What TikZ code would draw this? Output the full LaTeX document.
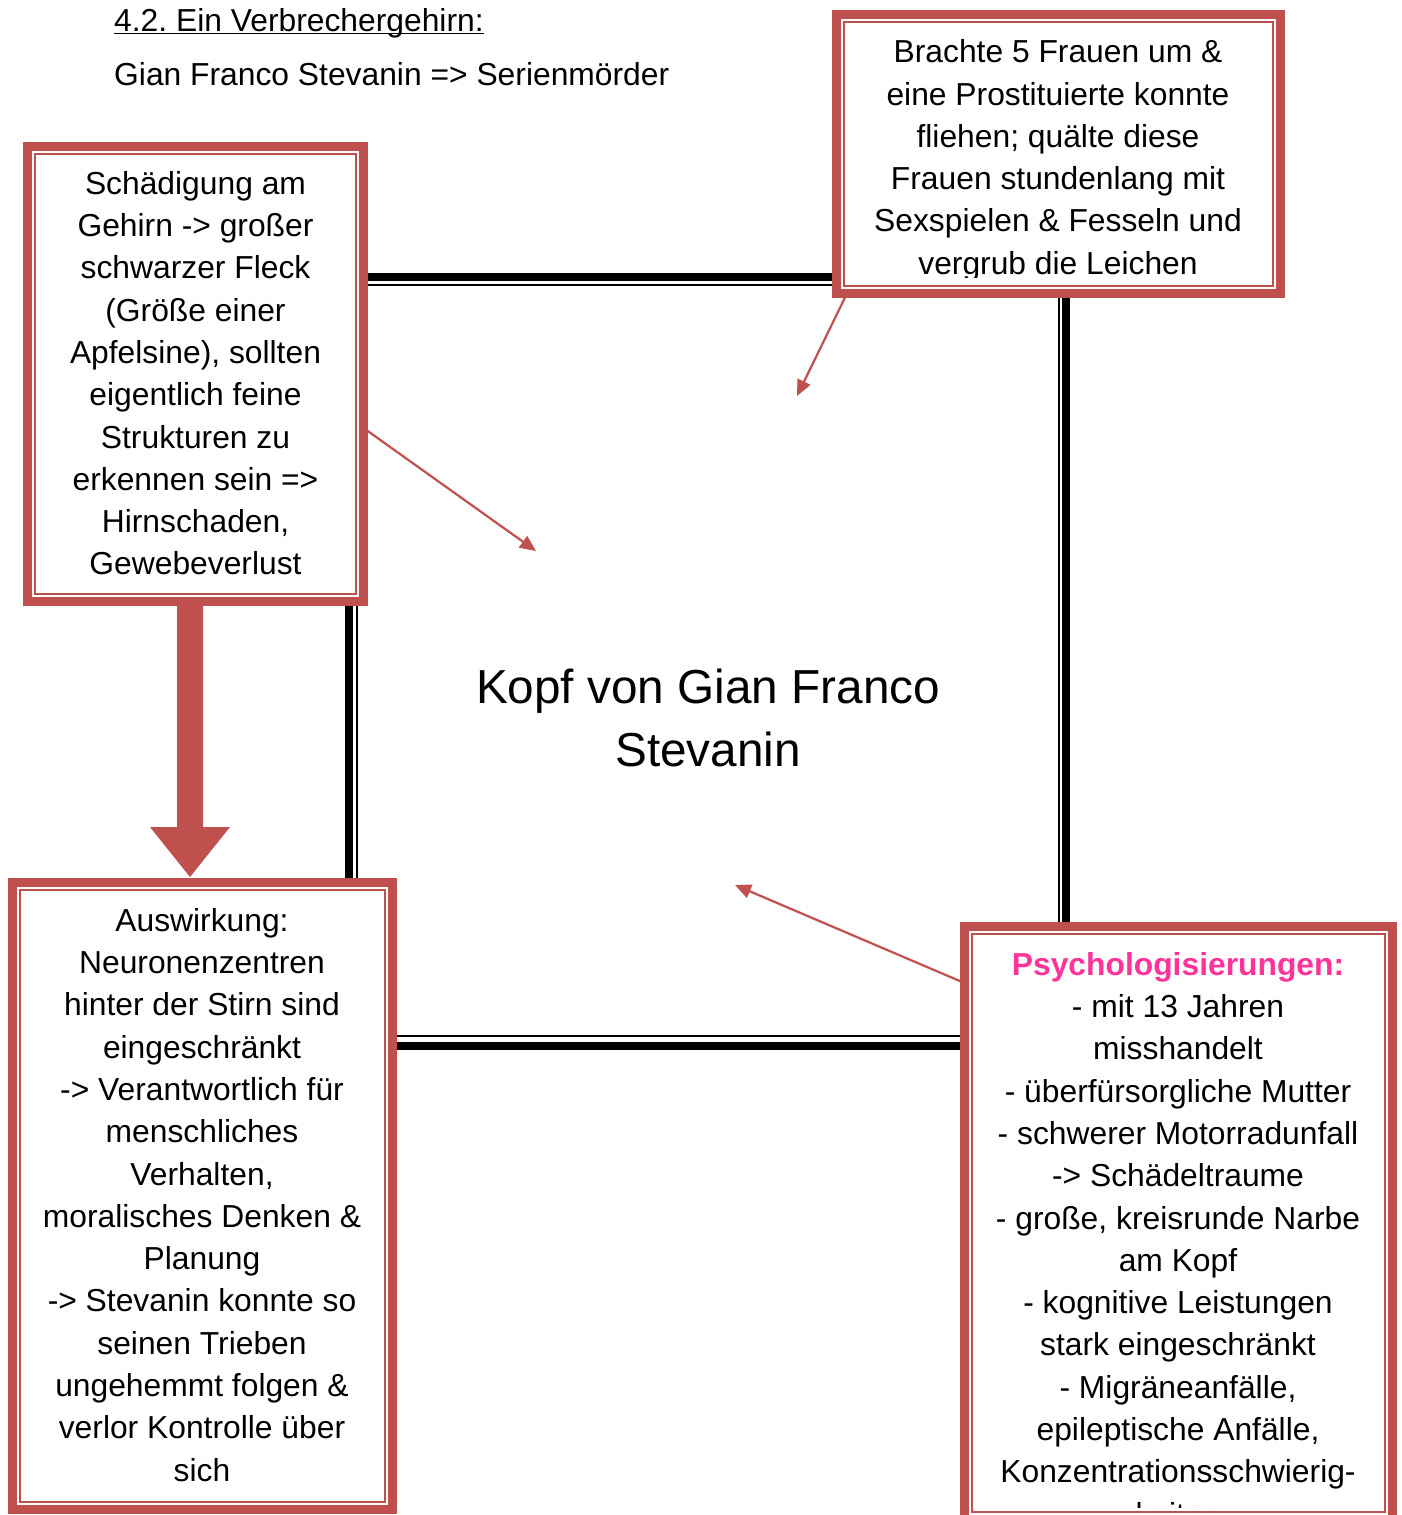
\documentclass[tikz,border=0pt]{standalone}
\usepackage{fontspec}
\setmainfont{Liberation Sans}
\usetikzlibrary{arrows.meta,backgrounds}
\definecolor{boxred}{RGB}{192,80,77}
\definecolor{headpink}{RGB}{255,51,153}
\newcommand{\frstrut}{\rule{0pt}{30pt}}
\newcommand{\innerframe}[1]{\draw[boxred, line width=2pt] ([shift={(7.5,7.5)}]#1.north west) rectangle ([shift={(-7.5,-7.5)}]#1.south east);}
\begin{document}
\begin{tikzpicture}[x=1pt,y=-1pt,
  box/.style={draw=boxred, line width=9pt, fill=white, rectangle, inner sep=0pt, outer sep=0pt, anchor=north west},
  bodyfont/.style={font=\fontsize{31.8}{42.3}\selectfont},
  boxtext/.style={bodyfont, anchor=north, align=center, inner sep=0pt},
  thinarrow/.style={draw=boxred, line width=2.2pt, -{Triangle[length=16pt,width=14pt]}},
  thickrule/.style={draw=black, line width=8pt},
  thinrule/.style={draw=black, line width=2pt}
]
\useasboundingbox (0,0) rectangle (1401,1515);

% header
\node[bodyfont, anchor=base west, inner sep=0pt] (h1) at (114,31) {4.2.\ Ein Verbrechergehirn:};
\draw[line width=1.5pt] ([yshift=-2.5pt]h1.base west) -- ([yshift=-2.5pt]h1.base east);
\node[bodyfont, anchor=base west, inner sep=0pt] (h2) at (114,85) {Gian Franco Stevanin => Serienmörder};

% boxes
\node[box, minimum width=336pt, minimum height=455pt] (b1) at (27.5,146.5) {};
\innerframe{b1}
\node[box, minimum width=444pt, minimum height=279pt] (b2) at (836.5,14.5) {};
\innerframe{b2}
\node[box, minimum width=380pt, minimum height=627pt] (b3) at (12.5,882.5) {};
\innerframe{b3}
\node[box, minimum width=428pt, minimum height=593pt] (b4) at (964.5,926.5) {};
\innerframe{b4}

% centre title
\node[anchor=north, align=center, inner sep=0pt, font=\fontsize{47.7}{63}\selectfont] (kopf) at (708,663) {\rule{0pt}{40pt}Kopf von Gian Franco\\Stevanin};

% box texts
\node[boxtext] (t1) at (195.5,164) {\frstrut Schädigung am\\Gehirn -> großer\\schwarzer Fleck\\(Größe einer\\Apfelsine), sollten\\eigentlich feine\\Strukturen zu\\erkennen sein =>\\Hirnschaden,\\Gewebeverlust};

\begin{scope}
\clip (842,20) rectangle (1275,277);
\node[boxtext] (t2) at (1058,32.5) {\frstrut Brachte 5 Frauen um \&\\eine Prostituierte konnte\\fliehen; quälte diese\\Frauen stundenlang mit\\Sexspielen \& Fesseln und\\vergrub die Leichen};
\end{scope}

\node[boxtext] (t3) at (202,901) {\frstrut Auswirkung:\\Neuronenzentren\\hinter der Stirn sind\\eingeschränkt\\-> Verantwortlich für\\menschliches\\Verhalten,\\moralisches Denken \&\\Planung\\-> Stevanin konnte so\\seinen Trieben\\ungehemmt folgen \&\\verlor Kontrolle über\\sich};

\begin{scope}
\clip (974,936) rectangle (1383,1507);
\node[boxtext] (t4) at (1178,945) {\frstrut\textcolor{headpink}{\bfseries Psychologisierungen:}\\- mit 13 Jahren\\misshandelt\\- überfürsorgliche Mutter\\- schwerer Motorradunfall\\-> Schädeltraume\\- große, kreisrunde Narbe\\am Kopf\\- kognitive Leistungen\\stark eingeschränkt\\- Migräneanfälle,\\epileptische Anfälle,\\Konzentrationsschwierig-\\keiten};
\end{scope}

% big block arrow from b1 to b3
\fill[boxred] (177,601.5) -- (203,601.5) -- (203,827) -- (230,827) -- (190,877) -- (150,827) -- (177,827) -- cycle;

% background: frame and thin arrows
\begin{scope}[on background layer]
\draw[thickrule] (349,277) rectangle (1066,1046);
\draw[thinrule] (356.5,285) rectangle (1059,1036);
\coordinate (tip1) at (797,396);
\coordinate (tip2) at (536,551);
\coordinate (tip3) at (735,885);
\draw[thinarrow] ([xshift=9pt,yshift=-3pt]b2.south west) -- (tip1);
\draw[thinarrow] (b1.east |- 0,428) -- (tip2);
\draw[thinarrow] (b4.west |- 0,983) -- (tip3);
\end{scope}
\end{tikzpicture}
\end{document}
